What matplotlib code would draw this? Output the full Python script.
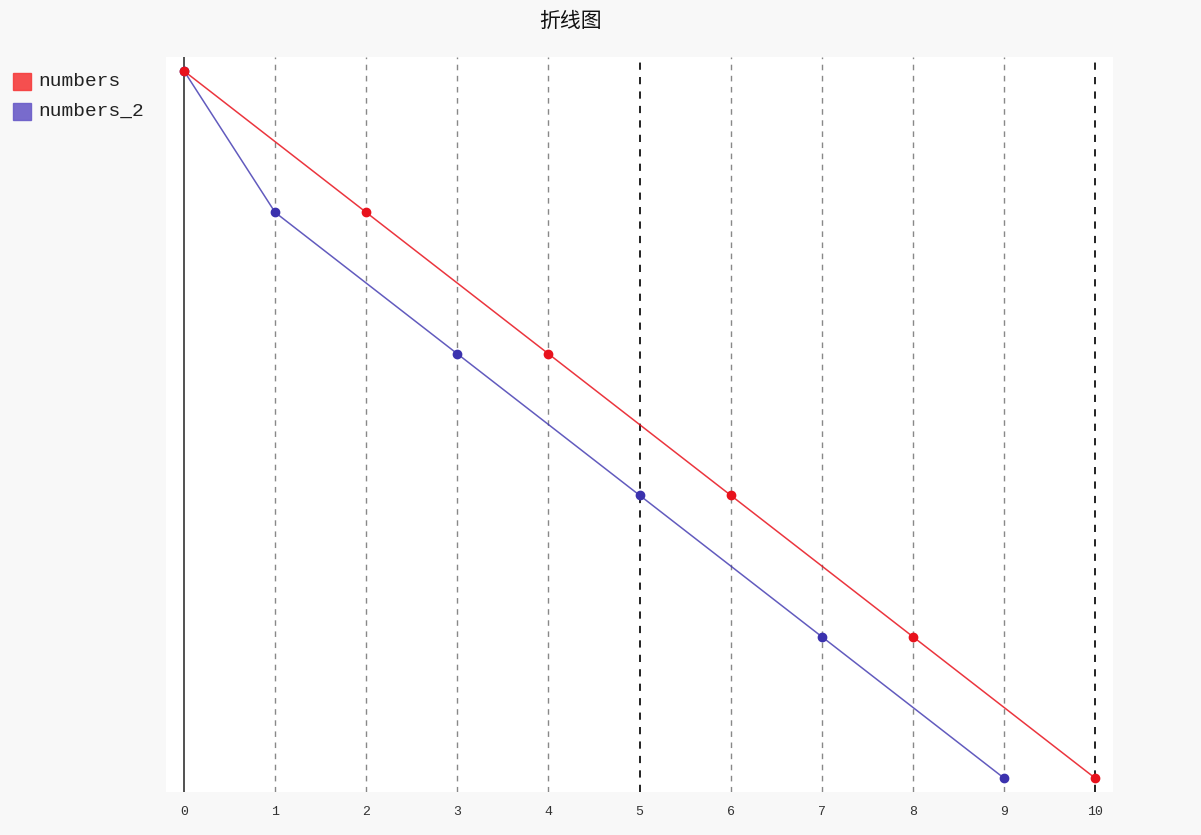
import matplotlib.pyplot as plt
from matplotlib.patches import Rectangle

plt.rcParams['font.family'] = ['Noto Sans CJK SC', 'DejaVu Sans']

title = "折线图"
x_numbers = [0, 2, 4, 6, 8, 10]
y_numbers = [10, 8, 6, 4, 2, 0]
x_numbers_2 = [0, 1, 3, 5, 7, 9]
y_numbers_2 = [10, 8, 6, 4, 2, 0]
x_ticks = list(range(0, 11))

red = '#e8121c'
blue = '#3b32ae'

fig = plt.figure(figsize=(12.01, 8.35), dpi=100)
fig.patch.set_facecolor('#f8f8f8')
ax = fig.add_axes([166 / 1201, 43 / 835, 947 / 1201, 735 / 835])
ax.set_facecolor('white')

# guide lines
for t in x_ticks:
    if t == 0:
        ax.axvline(t, color='#333333', lw=1.2, zorder=1)
    elif t % 5 == 0:
        ax.axvline(t, color='#111111', lw=1.3, ls=(0, (4, 4)), zorder=1)
    else:
        ax.axvline(t, color='#888888', lw=1.0, ls=(0, (4, 4)), zorder=1)

# blue first so red sits on top
ax.plot(x_numbers_2, y_numbers_2, color=blue, lw=1.1, alpha=0.8, zorder=3)
ax.plot(x_numbers_2, y_numbers_2, 'o', color=blue, ms=6, zorder=4)
ax.plot(x_numbers, y_numbers, color=red, lw=1.1, alpha=0.85, zorder=5)
ax.plot(x_numbers, y_numbers, 'o', color=red, ms=6, zorder=6)

ax.set_xlim(-0.198, 10.198)
ax.set_ylim(-0.198, 10.198)
ax.set_xticks(x_ticks)
ax.set_xticklabels([str(t) for t in x_ticks], family='Liberation Mono', fontsize=9.5, color='#333333')
ax.tick_params(axis='x', length=0, pad=10)
ax.set_yticks([])
for s in ax.spines.values():
    s.set_visible(False)

fig.text(571 / 1201, 1 - 21 / 835, title, ha='center', va='center', fontsize=15, color='#111111')

# legend
labels = ["numbers", "numbers_2"]
leg_colors = ['#f53c3c', '#6a5cc8']
for i, (lab, c) in enumerate(zip(labels, leg_colors)):
    yc = 81.5 + 30 * i
    fig.patches.append(Rectangle((13 / 1201, 1 - (yc + 8.5) / 835), 18 / 1201, 17 / 835,
                                 transform=fig.transFigure, facecolor=c, edgecolor=c, alpha=0.9))
    fig.text(38 / 1201, 1 - yc / 835, lab, ha='left', va='center', fontsize=14,
             family='Liberation Mono', color='#222222')

fig.savefig('out.png', dpi=100, facecolor=fig.get_facecolor())
